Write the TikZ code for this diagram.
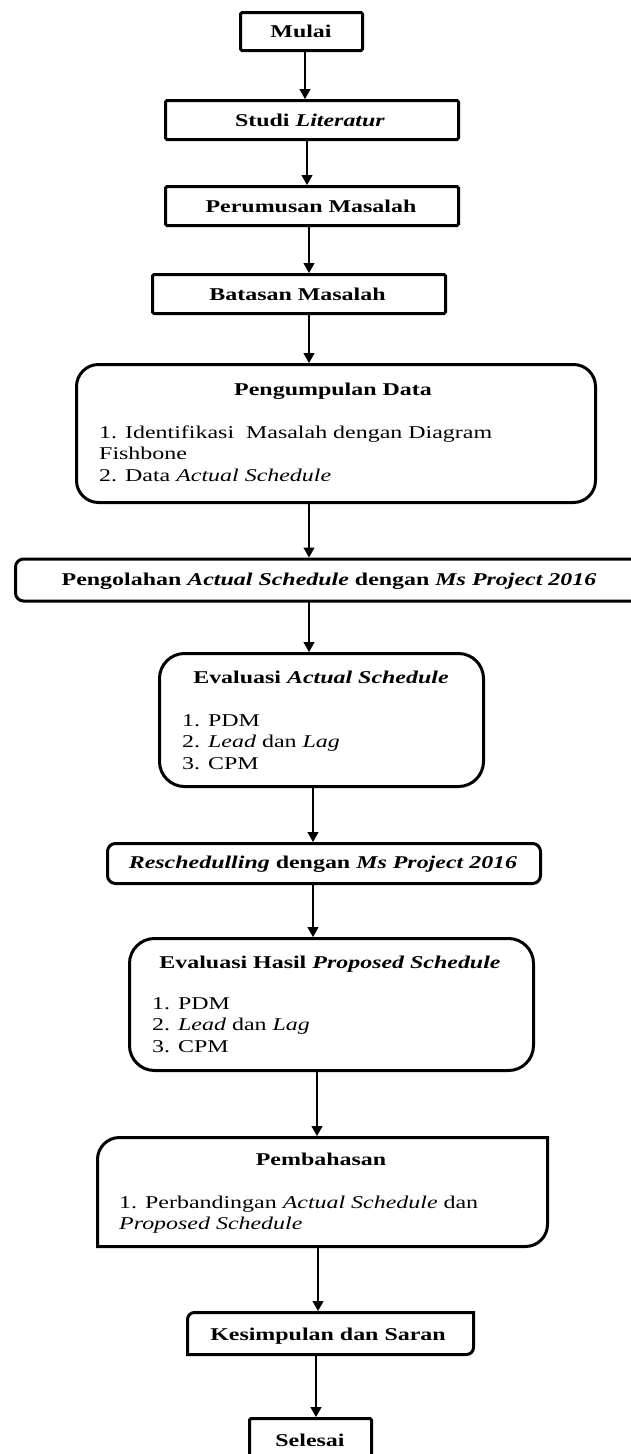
\documentclass[tikz,border=0pt]{standalone}
\usepackage{fontspec}
\setmainfont{Liberation Serif}[FakeStretch=1.33]
\usetikzlibrary{arrows.meta,calc}
\tikzset{
  box/.style={draw, line width=3pt, inner sep=0pt, outer sep=0pt, rounded corners=1.5pt},
  rbox/.style={box, rounded corners=#1},
  ghost/.style={inner sep=0pt, outer sep=0pt},
  edge3/.style={line width=3pt},
  ttl/.style={inner sep=0pt, anchor=base, font=\fontsize{18}{21.5}\selectfont\bfseries},
  lst/.style={inner sep=0pt, anchor=base west, font=\fontsize{18}{21.5}\selectfont},
  arr/.style={line width=1.2pt, -{Triangle[length=10pt,width=11pt]}, shorten >=1.5pt},
}
\begin{document}
\begin{tikzpicture}[x=1pt,y=-1pt]
\useasboundingbox (0,0) rectangle (630,1454);

% boxes
\node[box, minimum width=122pt, minimum height=38pt] (mulai) at (301.5,31.5) {};
\node[box, minimum width=293pt, minimum height=39pt] (studi) at (312,120) {};
\node[box, minimum width=293pt, minimum height=39pt] (rumus) at (312,206) {};
\node[box, minimum width=293pt, minimum height=39pt] (batas) at (299,294) {};
\node[rbox=22pt, minimum width=519pt, minimum height=138pt] (kumpul) at (336,433.5) {};
\node[rbox=8pt, minimum width=628pt, minimum height=42pt] (olah) at (329.5,580) {};
\node[rbox=25pt, minimum width=324pt, minimum height=133pt] (evala) at (321.5,720) {};
\node[rbox=8pt, minimum width=433pt, minimum height=40pt] (resch) at (324,863.5) {};
\node[rbox=25pt, minimum width=404pt, minimum height=132pt] (evalh) at (331.5,1004.5) {};
\node[ghost, minimum width=450pt, minimum height=109pt] (bahas) at (322.5,1192) {};
\draw[edge3] (bahas.south west) -- ($(bahas.north west)+(0,22)$) arc[start angle=180,end angle=90,radius=22pt]
  -- (bahas.north east) -- ($(bahas.south east)+(0,-22)$) arc[start angle=0,end angle=-90,radius=22pt] -- cycle;
\node[ghost, minimum width=286pt, minimum height=42pt] (simpul) at (330.5,1333.5) {};
\draw[edge3] (simpul.south west) -- ($(simpul.north west)+(0,7)$) arc[start angle=180,end angle=90,radius=7pt]
  -- (simpul.north east) -- ($(simpul.south east)+(0,-7)$) arc[start angle=0,end angle=-90,radius=7pt] -- cycle;
\node[box, minimum width=122pt, minimum height=43pt] (selesai) at (310.5,1440) {};

% titles
\node[ttl] (tmulai) at (301,37.3) {Mulai};
\node[ttl] (tstudi) at (310,126.7) {Studi \textit{Literatur}};
\node[ttl] (trumus) at (311,212.7) {Perumusan Masalah};
\node[ttl] (tbatas) at (297.5,300.7) {Batasan Masalah};
\node[ttl] (tkumpul) at (333,395) {Pengumpulan Data};
\node[ttl] (tolah) at (329,585.5) {Pengolahan \textit{Actual Schedule} dengan \textit{Ms Project 2016}};
\node[ttl] (tevala) at (321,683.3) {Evaluasi \textit{Actual Schedule}};
\node[ttl] (tresch) at (323,868) {\textit{Reschedulling} dengan \textit{Ms Project 2016}};
\node[ttl] (tevalh) at (330,968) {Evaluasi Hasil \textit{Proposed Schedule}};
\node[ttl] (tbahas) at (321,1165) {Pembahasan};
\node[ttl] (tsimpul) at (328,1340.5) {Kesimpulan dan Saran};
\node[ttl] (tselesai) at (310,1446) {Selesai};

% lists
\node[lst] (lkumpul) at (99,438) {\begin{tabular}[t]{@{}l@{}}1. Identifikasi\ \ Masalah dengan Diagram\\Fishbone\\2. Data \textit{Actual Schedule}\end{tabular}};
\node[lst] (levala) at (182,726) {\begin{tabular}[t]{@{}l@{}}1. PDM\\2. \textit{Lead} dan \textit{Lag}\\3. CPM\end{tabular}};
\node[lst] (levalh) at (152,1009) {\begin{tabular}[t]{@{}l@{}}1. PDM\\2. \textit{Lead} dan \textit{Lag}\\3. CPM\end{tabular}};
\node[lst] (lbahas) at (119,1208) {\begin{tabular}[t]{@{}l@{}}1. Perbandingan \textit{Actual Schedule} dan\\\textit{Proposed Schedule}\end{tabular}};

% connectors
\draw[arr] (mulai.south -| 305,0) -- (studi.north -| 305,0);
\draw[arr] (studi.south -| 307,0) -- (rumus.north -| 307,0);
\draw[arr] (rumus.south -| 309,0) -- (batas.north -| 309,0);
\draw[arr] (batas.south -| 309,0) -- (kumpul.north -| 309,0);
\draw[arr] (kumpul.south -| 309,0) -- (olah.north -| 309,0);
\draw[arr] (olah.south -| 309,0) -- (evala.north -| 309,0);
\draw[arr] (evala.south -| 313,0) -- (resch.north -| 313,0);
\draw[arr] (resch.south -| 313,0) -- (evalh.north -| 313,0);
\draw[arr] (evalh.south -| 317,0) -- (bahas.north -| 317,0);
\draw[arr] (bahas.south -| 318,0) -- (simpul.north -| 318,0);
\draw[arr] (simpul.south -| 316,0) -- (selesai.north -| 316,0);
\end{tikzpicture}
\end{document}
